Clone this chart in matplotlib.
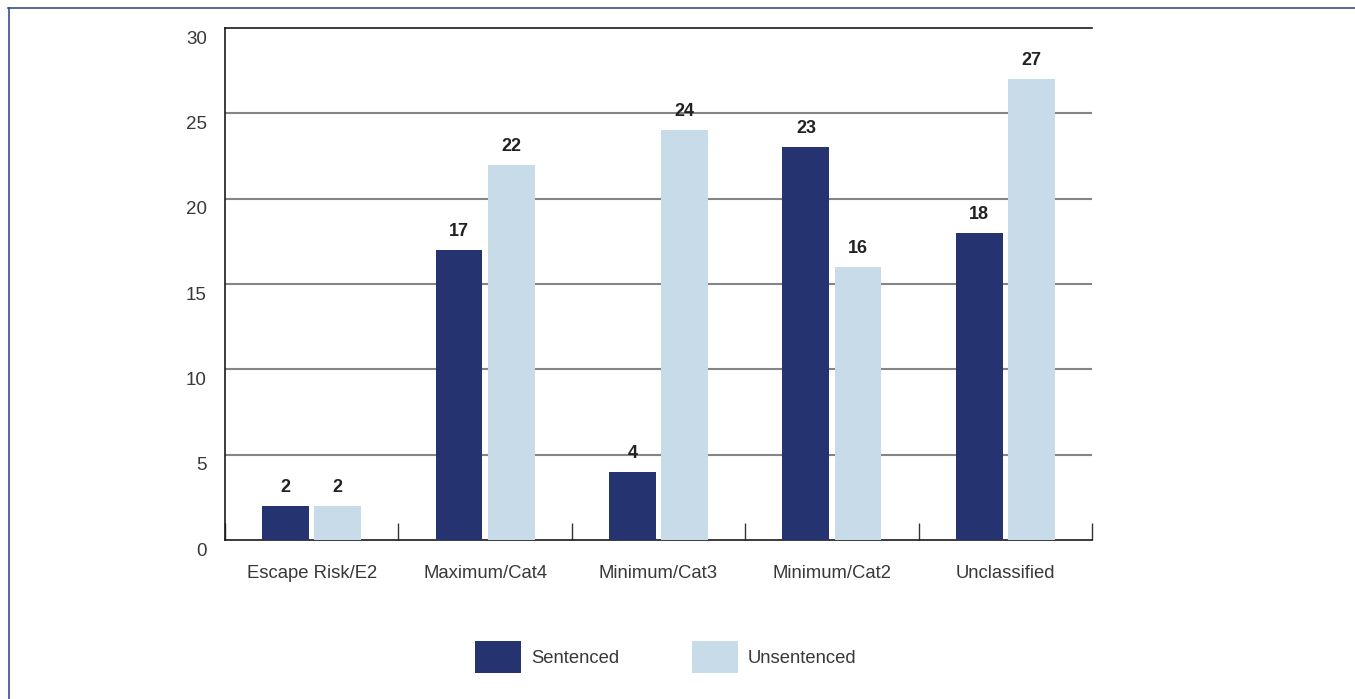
import matplotlib.pyplot as plt
import matplotlib.transforms as mtransforms
from matplotlib.lines import Line2D
from matplotlib.patches import Patch
import numpy as np

plt.rcParams['font.family'] = ['Liberation Sans', 'DejaVu Sans']

categories = ['Escape Risk/E2', 'Maximum/Cat4', 'Minimum/Cat3', 'Minimum/Cat2', 'Unclassified']
sentenced = [2, 17, 4, 23, 18]
unsentenced = [2, 22, 24, 16, 27]
series_names = ['Sentenced', 'Unsentenced']
yticks = [0, 5, 10, 15, 20, 25, 30]

dark = '#253470'
light = '#c8dbe8'
text_col = '#383838'

W, H = 1355, 699
fig = plt.figure(figsize=(W / 100, H / 100), dpi=100)
ax = fig.add_axes([225 / W, 1 - 540 / H, 867 / W, 512 / H])

x = np.arange(len(categories))
bw = 0.27
off = 0.15
b1 = ax.bar(x - off, sentenced, bw, color=dark, zorder=3)
b2 = ax.bar(x + off, unsentenced, bw, color=light, zorder=3)

for bars, vals in ((b1, sentenced), (b2, unsentenced)):
    for r, v in zip(bars, vals):
        ax.annotate(str(v), (r.get_x() + r.get_width() / 2, v),
                    xytext=(0, 10), textcoords='offset pixels',
                    ha='center', va='bottom', fontsize=13, fontweight='bold',
                    color='#222222')

ax.set_xlim(-0.5, len(categories) - 0.5)
ax.set_ylim(0, 30)

# horizontal grid
for t in yticks[1:-1]:
    ax.axhline(t, color='#858585', lw=1.5, zorder=1)

ax.spines['right'].set_visible(False)
for s in ('left', 'bottom', 'top'):
    ax.spines[s].set_color('#1a1a1a')
    ax.spines[s].set_linewidth(1.2)

ax.set_yticks(yticks)
ax.set_yticklabels([str(t) for t in yticks], fontsize=13.5, color=text_col)
ax.tick_params(axis='y', length=0, pad=13)
shift = mtransforms.ScaledTranslation(0, -9 / 100, fig.dpi_scale_trans)
for lbl in ax.get_yticklabels():
    lbl.set_transform(lbl.get_transform() + shift)

# category boundary ticks pointing inward
ax.set_xticks(np.arange(len(categories) + 1) - 0.5, minor=False)
ax.set_xticklabels([''] * (len(categories) + 1))
ax.tick_params(axis='x', direction='in', length=12, width=1, color='#333333')
for xi, c in zip(x, categories):
    ax.annotate(c, (xi, 0), xytext=(0, -33), textcoords='offset pixels',
                ha='center', va='center', fontsize=13.3, color=text_col,
                annotation_clip=False)

# legend
handles = [Patch(facecolor=dark, edgecolor='none'), Patch(facecolor=light, edgecolor='none')]
fig.legend(handles, series_names, loc='center', bbox_to_anchor=(666 / W, 1 - 657 / H),
           ncol=2, frameon=False, fontsize=13.3, handlelength=2.5, handleheight=2.3,
           handletextpad=0.55, columnspacing=3.9, labelcolor=text_col)

# page frame
frame = '#3b4c8c'
fig.add_artist(Line2D([8.5 / W, 8.5 / W], [0, 1 - 8 / H], color=frame, lw=1.2))
fig.add_artist(Line2D([8 / W, 1], [1 - 8 / H, 1 - 8 / H], color=frame, lw=1.2))

fig.savefig('out.png', dpi=100, facecolor='white')
